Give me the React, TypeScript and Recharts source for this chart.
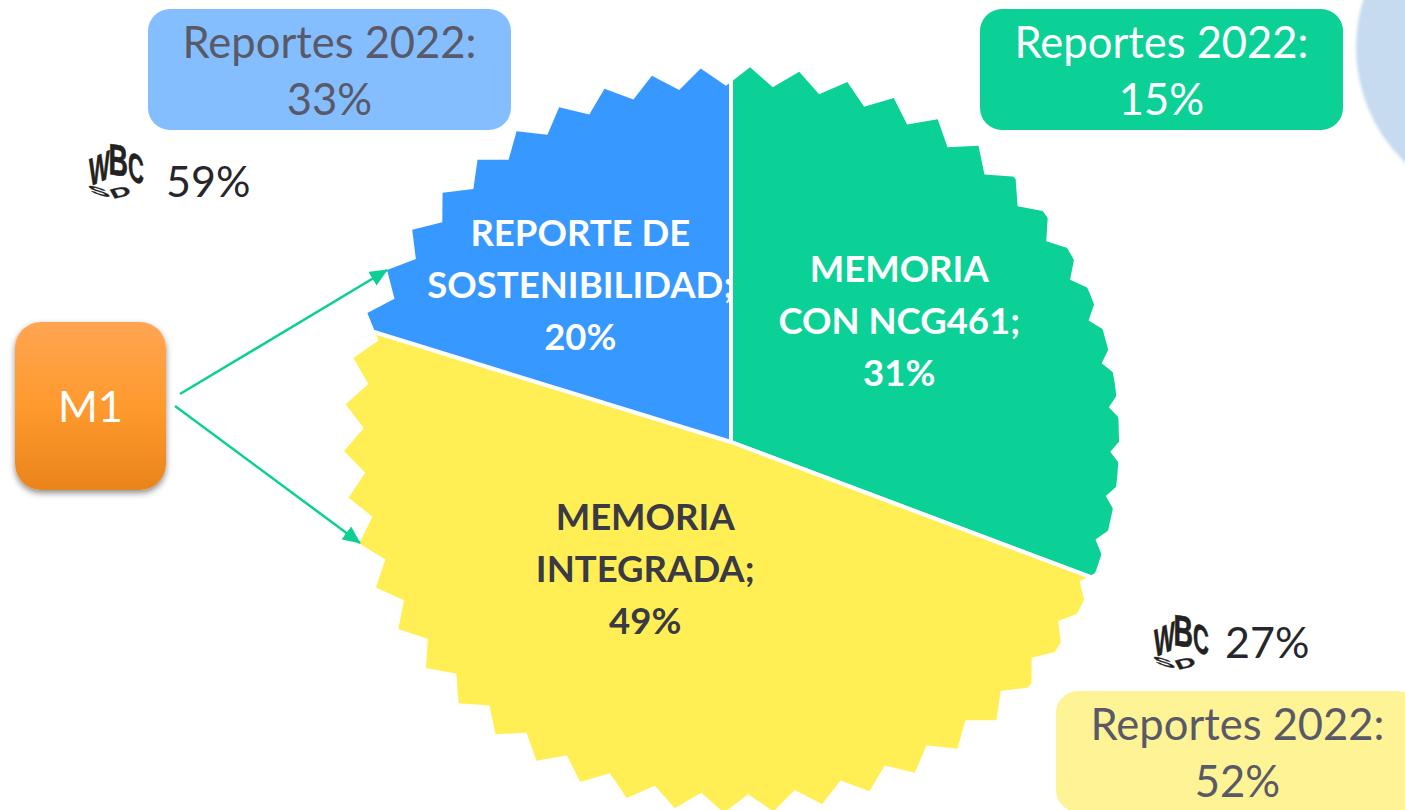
import { Pie, PieChart } from "recharts";

const categories = [["MEMORIA", "CON NCG461;"], ["MEMORIA", "INTEGRADA;"], ["REPORTE DE", "SOSTENIBILIDAD;"]];
const values = [31, 49, 20];
const colors = ["#0BD197", "#FFEF55", "#3798FF"];
const labelColors = ["#FFFFFF", "#3A3A44", "#FFFFFF"];
const data = categories.map((lines, i) => ({ lines, value: values[i], fill: colors[i], labelColor: labelColors[i] }));

const reports2022 = [15, 52, 33];
const wbcsdValues = [27, 59];

const FONT = "Lato, Carlito, sans-serif";
const TEETH = 50;
const TOOTH_OFFSET = 1.9; // first tip, degrees clockwise from 12 o'clock
const VALLEY = 0.95;
const STRETCH = 1.054; // the original pie is a little wider than tall
const STAR_DX = 6; // the serrated outline sits a bit off the slices' apex
const STAR_DY = -2;
const CLIP_R = 382; // tips on the right are cut flat in the original

function polar(x: number, y: number, r: number, deg: number) {
	const rad = (deg * Math.PI) / 180;
	return [x + STRETCH * r * Math.sin(rad), y - r * Math.cos(rad)];
}

function JaggedSector(props: any) {
	const { cx, cy, outerRadius, startAngle, endAngle, fill } = props;
	// recharts angles run counter clockwise from 3 o'clock
	const from = 90 - startAngle;
	const to = 90 - endAngle;
	const id = `slice-${Math.round(from)}`;
	const sx = cx + STAR_DX;
	const sy = cy + STAR_DY;

	const star: string[] = [];
	for (let k = 0; k < TEETH * 2; k++) {
		const r = k % 2 === 0 ? outerRadius : outerRadius * VALLEY;
		star.push(polar(sx, sy, r, TOOTH_OFFSET + (k * 180) / TEETH).join(","));
	}

	const wedge = [`${cx},${cy}`];
	for (let a = from; a < to; a += 20) wedge.push(polar(cx, cy, 1500, a).join(","));
	wedge.push(polar(cx, cy, 1500, to).join(","));

	const [x1, y1] = polar(cx, cy, 420, from);
	const [x2, y2] = polar(cx, cy, 420, to);

	return (
		<g>
			<defs>
				<clipPath id={`${id}-wedge`}>
					<polygon points={wedge.join(" ")} />
				</clipPath>
				<clipPath id={`${id}-edge`}>
					<rect x={sx - 600} y={sy - 600} width={600} height={1200} />
					<circle cx={sx} cy={sy} r={CLIP_R} />
				</clipPath>
			</defs>
			<g clipPath={`url(#${id}-edge)`}>
				<g clipPath={`url(#${id}-wedge)`}>
					<polygon points={star.join(" ")} fill={fill} />
				</g>
			</g>
			<line x1={cx} y1={cy} x2={x1} y2={y1} stroke="#fff" strokeWidth={4} />
			<line x1={cx} y1={cy} x2={x2} y2={y2} stroke="#fff" strokeWidth={4} />
		</g>
	);
}

const labelSpots = [
	[0.451, -0.325],
	[-0.23, 0.34],
	[-0.404, -0.42],
];

function SliceLabel(props: any) {
	const { cx, cy, outerRadius, index, payload, value } = props;
	const x = cx + labelSpots[index][0] * outerRadius;
	const y = cy + labelSpots[index][1] * outerRadius;
	const lines = [...payload.lines, `${value}%`];
	return (
		<text x={x} y={y} textAnchor="middle" fontFamily={FONT} fontWeight={700} fontSize={36.5} fill={payload.labelColor}>
			{lines.map((line: string, i: number) => (
				<tspan key={i} x={x} y={y + (i - 1) * 52 + 13}>
					{line}
				</tspan>
			))}
		</text>
	);
}

function Callout({ left, top, bg, color, value }: { left: number; top: number; bg: string; color: string; value: number }) {
	return (
		<div
			style={{
				position: "absolute",
				left,
				top,
				width: 363,
				height: 121,
				borderRadius: 22,
				background: bg,
				color,
				fontFamily: FONT,
				fontSize: 43.5,
				lineHeight: "57px",
				textAlign: "center",
				paddingTop: 4,
				boxSizing: "border-box",
			}}
		>
			Reportes 2022:
			<br />
			{value}%
		</div>
	);
}

function WbcsdMark({ left, top, textLeft, textTop, value }: { left: number; top: number; textLeft: number; textTop: number; value: number }) {
	return (
		<>
			<svg width={56} height={62} viewBox="0 0 56 62" style={{ position: "absolute", left, top, overflow: "visible" }}>
				<g fontFamily="'Liberation Sans', sans-serif" fontWeight={700} fontSize={20} fill="#23221E" stroke="#23221E" strokeWidth={0.3}>
					<text transform="matrix(1.1 -0.5 0 2 0 46)">W</text>
					<text transform="matrix(1.35 0.2 0 2.2 19.5 33)">B</text>
					<text transform="matrix(1.1 0.55 0 2 39 37)">C</text>
					<text transform="matrix(1.5 0.38 0.45 0.62 3 52)">S</text>
					<text transform="matrix(1.35 -0.32 0.35 0.65 24 58)">D</text>
				</g>
			</svg>
			<div
				style={{
					position: "absolute",
					left: textLeft,
					top: textTop,
					fontFamily: FONT,
					fontSize: 43,
					lineHeight: "57px",
					color: "#26262C",
				}}
			>
				{value}%
			</div>
		</>
	);
}

export default function App() {
	return (
		<div style={{ position: "fixed", left: 0, top: 0, width: 1405, height: 810, overflow: "hidden", background: "#fff" }}>
			{/* circle peeking in at the top right corner */}
			<div
				style={{
					position: "absolute",
					left: 1356,
					top: -112,
					width: 319,
					height: 319,
					borderRadius: "50%",
					background: "#C6DBF0",
					filter: "blur(1.5px)",
				}}
			/>
			<div style={{ position: "absolute", left: 0, top: 0 }}>
				<PieChart width={1405} height={810} margin={{ top: 0, right: 0, bottom: 0, left: 0 }}>
					<Pie
						data={data}
						dataKey="value"
						cx={731}
						cy={442}
						outerRadius={373}
						startAngle={90}
						endAngle={-270}
						isAnimationActive={false}
						labelLine={false}
						label={SliceLabel}
						shape={JaggedSector}
					/>
				</PieChart>
			</div>

			<Callout left={148} top={9} bg="#85BEFF" color="#595968" value={reports2022[2]} />
			<Callout left={980} top={9} bg="#0BD197" color="#FFFFFF" value={reports2022[0]} />
			<Callout left={1056} top={691} bg="#FEF395" color="#595968" value={reports2022[1]} />

			<WbcsdMark left={89} top={141} textLeft={166} textTop={152} value={wbcsdValues[1]} />
			<WbcsdMark left={1154} top={612} textLeft={1225} textTop={613} value={wbcsdValues[0]} />

			<div
				style={{
					position: "absolute",
					left: 15,
					top: 322,
					width: 151,
					height: 168,
					borderRadius: 26,
					background: "linear-gradient(180deg, #FFA552 0%, #FF9A2E 50%, #E8841A 100%)",
					boxShadow: "0 3px 6px rgba(0,0,0,0.45)",
					color: "#fff",
					fontFamily: FONT,
					fontSize: 43,
					lineHeight: "168px",
					textAlign: "center",
				}}
			>
				M1
			</div>

			<svg width={1405} height={810} style={{ position: "absolute", left: 0, top: 0 }}>
				<defs>
					<marker id="head" markerUnits="userSpaceOnUse" markerWidth={18} markerHeight={16} refX={17} refY={8} orient="auto">
						<path d="M0,0 L18,8 L0,16 Z" fill="#0BCF94" />
					</marker>
				</defs>
				<line x1={180} y1={394} x2={387} y2={270} stroke="#0BCF94" strokeWidth={2.5} markerEnd="url(#head)" />
				<line x1={175} y1={406} x2={360} y2={543} stroke="#0BCF94" strokeWidth={2.5} markerEnd="url(#head)" />
			</svg>
		</div>
	);
}
